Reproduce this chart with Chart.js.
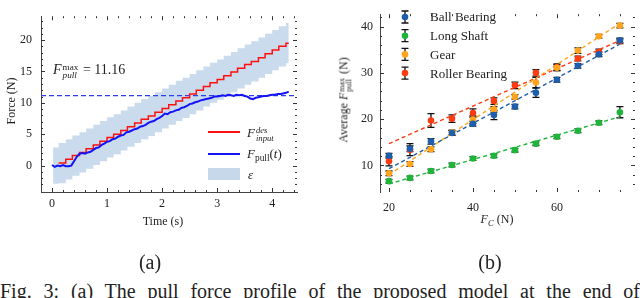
<!DOCTYPE html>
<html>
<head>
<meta charset="utf-8">
<script src="https://cdn.jsdelivr.net/npm/chart.js@4.4.1/dist/chart.umd.min.js"></script>
<style>
  body { margin: 0; background: #fff; font-family: 'Liberation Serif', serif; color: #222; }
  #wrap { position: relative; width: 640px; height: 298px; overflow: hidden; }
  canvas { position: absolute; top: 0; }
  .lbl { position: absolute; white-space: nowrap; font-size: 12px; line-height: 14px; }
  .rot { transform: translate(-50%, -50%) rotate(-90deg); }
  .ctr { transform: translate(-50%, -50%); }
  .ss { display: inline-flex; flex-direction: column; font-size: 0.66em; line-height: 0.9; position: relative; top: -0.42em; margin-left: 1px; margin-right: 1px; }
  .sub { font-size: 0.72em; vertical-align: -0.3em; }
  .cap { position: absolute; font-size: 20px; line-height: 24px; }
  .swatch { position: absolute; }
</style>
</head>
<body>
<div id="wrap">
  <canvas id="force-chart" width="320" height="240" style="left:0"></canvas>
  <canvas id="pull-chart" width="320" height="240" style="left:320px"></canvas>

  <div class="lbl rot" style="left:11px; top:101px;">Force (N)</div>
  <div class="lbl ctr" style="left:163px; top:221px;">Time (s)</div>
  <div class="lbl" style="left:53px; top:63px; font-size:14px;"><i>F</i><span class="ss"><span>max</span><i>pull</i></span> = 11.16</div>

  <div class="swatch" style="left:208px; top:131px; width:32px; height:2px; background:#ff1010;"></div>
  <div class="swatch" style="left:208px; top:153px; width:32px; height:2px; background:#1414f5;"></div>
  <div class="swatch" style="left:208px; top:168px; width:32px; height:12px; background:#c6d8ea;"></div>
  <div class="lbl" style="left:247px; top:126px; font-size:13px;"><i>F</i><span class="ss"><i>des</i><i>input</i></span></div>
  <div class="lbl" style="left:247px; top:147px; font-size:13px;"><i>F</i><span class="sub">pull</span>(<i>t</i>)</div>
  <div class="lbl" style="left:248px; top:168px; font-size:13px;"><i>ε</i></div>

  <div class="lbl rot" style="left:346px; top:100px;">Average <i>F</i><span class="ss"><span>max</span><span>pull</span></span> (N)</div>
  <div class="lbl ctr" style="left:497px; top:221px;"><i>F</i><span class="sub"><i>C</i></span> (N)</div>

  <div class="cap ctr" style="left:150px; top:262px;">(a)</div>
  <div class="cap ctr" style="left:490px; top:262px;">(b)</div>
  <div class="cap" style="left:0; top:279px; width:640px; text-align:justify; text-align-last:justify;">Fig. 3: (a) The pull force profile of the proposed model at the end of</div>
</div>

<script>
// (a) pull force profile
const timeTicks = [0, 1, 2, 3, 4];
const timeMinor = [0.2, 0.4, 0.6, 0.8, 1.2, 1.4, 1.6, 1.8, 2.2, 2.4, 2.6, 2.8, 3.2, 3.4, 3.6, 3.8, 4.2, 4.4];
const forceTicks = [0, 5, 10, 15, 20];
const forceMinor = [-3, -2, -1, 1, 2, 3, 4, 6, 7, 8, 9, 11, 12, 13, 14, 16, 17, 18, 19, 21, 22, 23];

const stepT = [0.12, 0.25, 0.37, 0.50, 0.62, 0.75, 0.87, 1.00, 1.12, 1.25, 1.37, 1.50, 1.62, 1.75, 1.87, 2.00, 2.12, 2.25,
  2.37, 2.50, 2.62, 2.75, 2.87, 3.00, 3.12, 3.25, 3.37, 3.50, 3.62, 3.75, 3.87, 4.00, 4.12, 4.25, 4.30];
const stepF = [0.4, 1.0, 1.6, 2.1, 2.7, 3.3, 3.9, 4.5, 5.0, 5.6, 6.2, 6.8, 7.4, 7.9, 8.5, 9.1, 9.7, 10.3,
  10.8, 11.4, 12.0, 12.6, 13.2, 13.7, 14.3, 14.9, 15.5, 16.1, 16.6, 17.2, 17.8, 18.4, 19.0, 19.5, 19.5];

const bandT = [0.02, 0.12, 0.25, 0.37, 0.50, 0.62, 0.75, 0.87, 1.00, 1.12, 1.25, 1.37, 1.50, 1.62, 1.75, 1.87, 2.00, 2.12,
  2.25, 2.37, 2.50, 2.62, 2.75, 2.87, 3.00, 3.12, 3.25, 3.37, 3.50, 3.62, 3.75, 3.87, 4.00, 4.12, 4.25, 4.30];
const bandHi = [2.9, 3.6, 4.2, 4.8, 5.3, 5.9, 6.5, 7.1, 7.7, 8.2, 8.8, 9.4, 10.0, 10.6, 11.1, 11.7, 12.3, 12.9,
  13.5, 14.0, 14.6, 15.2, 15.8, 16.4, 16.9, 17.5, 18.1, 18.7, 19.3, 19.8, 20.4, 21.0, 21.6, 22.2, 22.7, 22.7];
const bandLo = [-2.9, -2.8, -2.2, -1.6, -1.1, -0.5, 0.1, 0.7, 1.3, 1.8, 2.4, 3.0, 3.6, 4.2, 4.7, 5.3, 5.9, 6.5,
  7.1, 7.6, 8.2, 8.8, 9.4, 10.0, 10.5, 11.1, 11.7, 12.3, 12.9, 13.4, 14.0, 14.6, 15.2, 15.8, 16.3, 16.3];

const pullT = [0.00, 0.05, 0.10, 0.15, 0.20, 0.25, 0.30, 0.35, 0.40, 0.45, 0.50, 0.55, 0.60, 0.65, 0.70, 0.75, 0.80, 0.85,
  0.90, 0.95, 1.00, 1.05, 1.10, 1.15, 1.20, 1.25, 1.30, 1.35, 1.40, 1.45, 1.50, 1.55, 1.60, 1.65, 1.70, 1.75,
  1.80, 1.85, 1.90, 1.95, 2.00, 2.05, 2.10, 2.15, 2.20, 2.25, 2.30, 2.35, 2.40, 2.45, 2.50, 2.55, 2.60, 2.65,
  2.70, 2.75, 2.80, 2.85, 2.90, 2.95, 3.00, 3.05, 3.10, 3.15, 3.20, 3.25, 3.30, 3.35, 3.40, 3.45, 3.50, 3.55,
  3.60, 3.65, 3.70, 3.75, 3.80, 3.85, 3.90, 3.95, 4.00, 4.05, 4.10, 4.15, 4.20, 4.25, 4.30];
const pullF = [0.1, -0.2, 0.0, -0.1, 0.1, -0.1, -0.1, 0.0, 0.7, 1.4, 1.9, 2.0, 1.9, 2.1, 2.2, 2.5, 2.8, 2.9,
  3.3, 3.5, 3.8, 3.9, 4.2, 4.3, 4.6, 4.8, 4.9, 5.3, 5.4, 5.6, 5.8, 5.9, 6.2, 6.3, 6.5, 6.8,
  7.0, 7.1, 7.4, 7.6, 7.9, 8.3, 8.2, 8.5, 8.6, 8.8, 8.9, 9.2, 9.3, 9.5, 9.8, 9.9, 10.1, 10.2,
  10.4, 10.5, 10.6, 10.7, 10.8, 11.0, 11.0, 11.1, 11.2, 11.1, 11.3, 11.2, 11.1, 11.3, 11.2, 11.3, 11.1, 11.0,
  10.7, 10.6, 10.8, 10.9, 11.0, 11.1, 11.1, 11.2, 11.3, 11.3, 11.4, 11.4, 11.5, 11.6, 11.8];

const pullMaxT = [-0.2, 4.45];
const pullMaxF = [11.16, 11.16];

// (b) average max pull force vs F_C
const fcValues = [20, 25, 30, 35, 40, 45, 50, 55, 60, 65, 70, 75];
const fcTicks = [20, 40, 60];
const fcMinor = [25, 30, 35, 45, 50, 55, 65, 70, 75];
const avgTicks = [10, 20, 30, 40];
const avgMinor = [6, 8, 12, 14, 16, 18, 22, 24, 26, 28, 32, 34, 36, 38, 42];

const ballBearing = [12.1, 13.6, 15.2, 17.0, 19.0, 20.9, 22.7, 25.7, 28.5, 31.5, 34.0, 37.0];
const ballErr = [0.5, 0.6, 0.6, 0.5, 0.5, 1.0, 0.5, 1.0, 0.5, 0.5, 0.5, 0.5];
const longShaft = [6.6, 7.3, 8.8, 10.1, 11.5, 12.1, 13.3, 14.7, 16.2, 17.5, 19.2, 21.5];
const shaftErr = [0.4, 0.4, 0.4, 0.4, 0.4, 0.4, 0.4, 0.4, 0.4, 0.4, 0.4, 1.2];
const gear = [8.3, 10.3, 13.5, 17.1, 19.9, 22.1, 24.8, 27.9, 31.1, 34.8, 37.9, 40.2];
const gearErr = [0.5, 0.5, 0.5, 0.5, 0.8, 0.6, 0.5, 1.1, 0.6, 0.6, 0.4, 0.5];
const rollerBearing = [10.9, 13.4, 19.7, 20.1, 21.3, 23.9, 27.3, 30.0, 31.2, 33.1, 34.5, 36.8];
const rollerErr = [1.0, 1.3, 1.5, 0.8, 0.9, 0.7, 0.7, 0.7, 0.7, 0.5, 0.6, 0.5];

const fitX = [20, 75];
const ballFit = [9.3, 36.2];
const shaftFit = [6.0, 20.5];
const gearFit = [8.0, 40.7];
const rollerFit = [14.7, 37.0];

const seriesNames = ['Ball Bearing', 'Long Shaft', 'Gear', 'Roller Bearing'];
const seriesColors = ['#1d5fac', '#1fb53a', '#ffa41c', '#ff3b12'];

const xy = (xs, ys) => xs.map((v, i) => ({ x: v, y: ys[i] }));

// inward ticks on all four sides, like the matplotlib/pgf frame
const frameTicks = {
  id: 'frameTicks',
  afterDraw(chart, args, opts) {
    const { ctx, chartArea: a, scales: { x, y } } = chart;
    ctx.save();
    ctx.strokeStyle = '#333';
    ctx.lineWidth = 1;
    ctx.beginPath();
    const vt = (v, len) => {
      const p = Math.round(x.getPixelForValue(v)) + 0.5;
      ctx.moveTo(p, a.bottom); ctx.lineTo(p, a.bottom - len);
      ctx.moveTo(p, a.top); ctx.lineTo(p, a.top + len);
    };
    const ht = (v, len) => {
      const p = Math.round(y.getPixelForValue(v)) + 0.5;
      ctx.moveTo(a.left, p); ctx.lineTo(a.left + len, p);
      ctx.moveTo(a.right, p); ctx.lineTo(a.right - len, p);
    };
    opts.xMajor.forEach(v => vt(v, 4));
    opts.xMinor.forEach(v => vt(v, 2));
    opts.yMajor.forEach(v => ht(v, 4));
    opts.yMinor.forEach(v => ht(v, 2));
    ctx.stroke();
    ctx.restore();
  }
};

const errorBars = {
  id: 'errorBars',
  beforeDatasetsDraw(chart) {
    const { ctx, scales: { x, y } } = chart;
    ctx.save();
    ctx.strokeStyle = '#111';
    ctx.lineWidth = 1.3;
    chart.data.datasets.forEach(ds => {
      if (!ds.errors) return;
      ds.data.forEach((p, i) => {
        const px = x.getPixelForValue(p.x);
        const top = y.getPixelForValue(p.y + ds.errors[i]);
        const bot = y.getPixelForValue(p.y - ds.errors[i]);
        ctx.beginPath();
        ctx.moveTo(px, top); ctx.lineTo(px, bot);
        ctx.moveTo(px - 3.5, top); ctx.lineTo(px + 3.5, top);
        ctx.moveTo(px - 3.5, bot); ctx.lineTo(px + 3.5, bot);
        ctx.stroke();
      });
    });
    ctx.restore();
  }
};

const pullLegend = {
  id: 'pullLegend',
  afterDraw(chart) {
    const { ctx, chartArea: a } = chart;
    ctx.save();
    ctx.font = '13px "Liberation Serif", serif';
    ctx.textBaseline = 'middle';
    chart.data.datasets.filter(ds => ds.errors).forEach((ds, i) => {
      const cx = a.left + 25, cy = 17 + i * 18.7;
      ctx.strokeStyle = '#111';
      ctx.lineWidth = 1.3;
      ctx.beginPath();
      ctx.moveTo(cx, cy - 6); ctx.lineTo(cx, cy + 6);
      ctx.moveTo(cx - 3.5, cy - 6); ctx.lineTo(cx + 3.5, cy - 6);
      ctx.moveTo(cx - 3.5, cy + 6); ctx.lineTo(cx + 3.5, cy + 6);
      ctx.stroke();
      ctx.fillStyle = ds.backgroundColor;
      ctx.beginPath();
      ctx.arc(cx, cy, 3.3, 0, Math.PI * 2);
      ctx.fill();
      ctx.fillStyle = '#222';
      ctx.fillText(ds.label, a.left + 50, cy + 1);
    });
    ctx.restore();
  }
};

const tickFont = { family: "'Liberation Serif', serif", size: 12 };

document.addEventListener('DOMContentLoaded', () => {
  renderForceChart(document.getElementById('force-chart'));
  renderPullChart(document.getElementById('pull-chart'));
});

function renderForceChart(canvas) {
  new Chart(canvas, {
    type: 'line',
    data: {
      datasets: [
        { label: 'F_pull(t)', data: xy(pullT, pullF), borderColor: '#1414f5', borderWidth: 2, pointRadius: 0, tension: 0 },
        { label: 'F_input^des', data: xy(stepT, stepF), borderColor: '#ff1010', borderWidth: 1.5, pointRadius: 0, stepped: 'before' },
        { label: 'max', data: xy(pullMaxT, pullMaxF), borderColor: '#2a40e8', borderWidth: 1.2, borderDash: [5, 3], pointRadius: 0 },
        { label: 'eps', data: xy(bandT, bandHi), borderWidth: 0, pointRadius: 0, stepped: 'before', fill: '+1', backgroundColor: '#c9dbec' },
        { label: 'eps-lo', data: xy(bandT, bandLo), borderWidth: 0, pointRadius: 0, stepped: 'before' }
      ]
    },
    options: {
      responsive: false,
      animation: false,
      layout: { padding: { left: 0, top: 0, right: 23, bottom: 0 } },
      plugins: {
        legend: { display: false },
        tooltip: { enabled: false },
        frameTicks: { xMajor: timeTicks, xMinor: timeMinor, yMajor: forceTicks, yMinor: forceMinor }
      },
      scales: {
        x: {
          type: 'linear', min: -0.2, max: 4.45,
          afterBuildTicks: s => { s.ticks = timeTicks.map(v => ({ value: v })); },
          afterFit: s => { s.height = 48; },
          grid: { display: false, drawTicks: false },
          border: { display: true, color: '#444', width: 1 },
          ticks: { font: tickFont, color: '#222', padding: 5, maxRotation: 0 }
        },
        y: {
          min: -4.2, max: 23.8,
          afterBuildTicks: s => { s.ticks = forceTicks.map(v => ({ value: v })); },
          afterFit: s => { s.width = 41; },
          grid: { display: false, drawTicks: false },
          border: { display: true, color: '#444', width: 1 },
          ticks: { font: tickFont, color: '#222', padding: 9 }
        }
      }
    },
    plugins: [frameTicks]
  });
}

function renderPullChart(canvas) {
  const values = [ballBearing, longShaft, gear, rollerBearing];
  const errs = [ballErr, shaftErr, gearErr, rollerErr];
  const fits = [ballFit, shaftFit, gearFit, rollerFit];

  const points = seriesNames.map((name, i) => ({
    label: name, data: xy(fcValues, values[i]), errors: errs[i],
    showLine: false, pointRadius: 3.3, borderWidth: 0,
    backgroundColor: seriesColors[i], borderColor: seriesColors[i]
  }));
  const lines = seriesNames.map((name, i) => ({
    label: name + ' fit', data: xy(fitX, fits[i]),
    borderColor: seriesColors[i], borderWidth: 1.4, borderDash: [4, 3], pointRadius: 0
  }));

  new Chart(canvas, {
    type: 'line',
    data: { datasets: points.concat(lines) },
    options: {
      responsive: false,
      animation: false,
      layout: { padding: { left: 0, top: 0, right: 5, bottom: 0 } },
      plugins: {
        legend: { display: false },
        tooltip: { enabled: false },
        frameTicks: { xMajor: fcTicks, xMinor: fcMinor, yMajor: avgTicks, yMinor: avgMinor }
      },
      scales: {
        x: {
          type: 'linear', min: 17.86, max: 78.6,
          afterBuildTicks: s => { s.ticks = fcTicks.map(v => ({ value: v })); },
          afterFit: s => { s.height = 48; },
          grid: { display: false, drawTicks: false },
          border: { display: false },
          ticks: { font: tickFont, color: '#222', padding: 9, maxRotation: 0 }
        },
        y: {
          min: 4.26, max: 42.66,
          afterBuildTicks: s => { s.ticks = avgTicks.map(v => ({ value: v })); },
          afterFit: s => { s.width = 60; },
          grid: { display: false, drawTicks: false },
          border: { display: true, color: '#444', width: 1 },
          ticks: { font: tickFont, color: '#222', padding: 7 }
        }
      }
    },
    plugins: [frameTicks, errorBars, pullLegend]
  });
}
</script>
</body>
</html>
